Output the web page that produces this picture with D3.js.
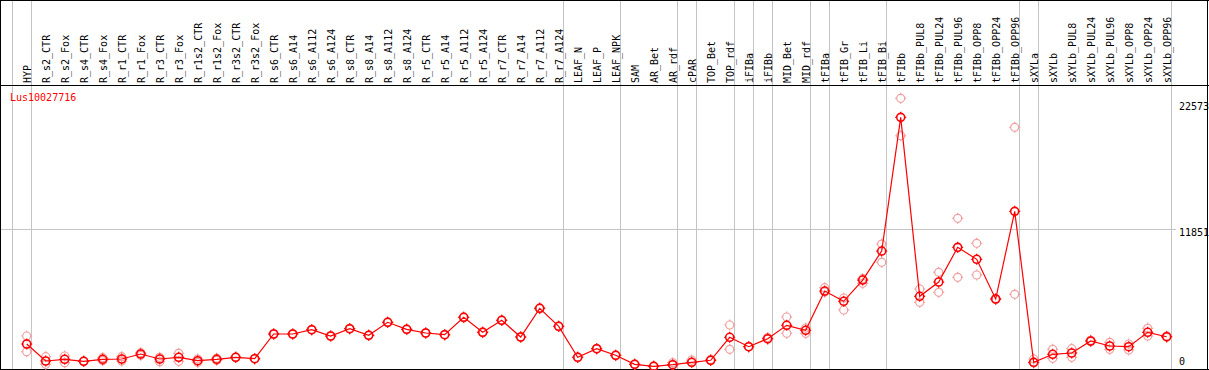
<!DOCTYPE html>
<html>
<head>
<meta charset="utf-8">
<script src="https://cdn.jsdelivr.net/npm/d3@7"></script>
<style>
  body { margin: 0; background: #fff; }
  text { font-family: "DejaVu Sans Mono", monospace; font-size: 10px; }
</style>
</head>
<body>
<div id="chart"></div>
<script>
var geneName = "Lus10027716";

var samples = ["HYP","R_s2_CTR","R_s2_Fox","R_s4_CTR","R_s4_Fox","R_r1_CTR","R_r1_Fox","R_r3_CTR","R_r3_Fox",
  "R_r1s2_CTR","R_r1s2_Fox","R_r3s2_CTR","R_r3s2_Fox","R_s6_CTR","R_s6_A14","R_s6_A112","R_s6_A124",
  "R_s8_CTR","R_s8_A14","R_s8_A112","R_s8_A124","R_r5_CTR","R_r5_A14","R_r5_A112","R_r5_A124",
  "R_r7_CTR","R_r7_A14","R_r7_A112","R_r7_A124","LEAF_N","LEAF_P","LEAF_NPK","SAM","AR_Bet","AR_rdf",
  "cPAR","TOP_Bet","TOP_rdf","iFIBa","iFIBb","MID_Bet","MID_rdf","tFIBa","tFIB_Gr","tFIB_Li","tFIB_Bi",
  "tFIBb","tFIBb_PUL8","tFIBb_PUL24","tFIBb_PUL96","tFIBb_OPP8","tFIBb_OPP24","tFIBb_OPP96","sXYLa",
  "sXYLb","sXYLb_PUL8","sXYLb_PUL24","sXYLb_PUL96","sXYLb_OPP8","sXYLb_OPP24","sXYLb_OPP96"];

var means = [2013,563,708,537,708,733,1160,733,878,588,708,878,759,2866,2866,3233,2695,3318,2755,3864,
  3267,2951,2806,4290,3011,4034,2610,5058,3522,878,1612,1049,281,111,247,452,623,2584,1783,2465,3608,
  3181,6533,5655,7471,9945,21348,6081,7301,10260,9237,5851,13331,452,1134,1245,2269,1842,1783,3011,2635];

var replicates = [[2695,1356],[930,281],[989,418],[560,520],[844,588],[930,560],[1271,1049],[878,503],
  [1220,537],[733,452],[800,620],[900,850],[780,740],[2900,2830],[2890,2840],[3260,3200],[2720,2670],
  [3340,3290],[2780,2730],[3890,3840],[3290,3240],[2980,2920],[2830,2780],[4320,4260],[3040,2980],
  [4060,4010],[2640,2580],[5090,5030],[3550,3490],[900,850],[1640,1580],[1070,1020],[300,260],[130,90],
  [418,230],[648,430],[700,600],[3633,1561],[1800,1760],[2560,2420],[4316,2925],[2925,3378],[6815,6450],
  [5936,4913],[7582,7190],[10542,8981],[22969,19779],[6704,5569],[8128,6422],[12734,7702],[10602,7898],
  [5900,5800],[20495,6252],[733,400],[1561,793],[1612,878],[2330,2210],[2158,1561],[2013,1501],
  [3352,2695],[2700,2580]];

// sample after which a grey separator is drawn
var groupEnds = ["HYP","R_r7_A124","LEAF_NPK","AR_rdf","cPAR","TOP_rdf","iFIBa","iFIBb","MID_rdf",
  "tFIBa","tFIB_Bi","tFIBb_OPP96","sXYLa","sXYLb_OPP96"];

var yTicks = [0, 11851, 22573];

var width = 1209, height = 370;

var svg = d3.select("#chart").append("svg")
  .attr("width", width)
  .attr("height", height);

var x = d3.scalePoint()
  .domain(samples)
  .range([26.7, 1166.7]);

var y = d3.scaleLinear()
  .domain([0, 22573])
  .range([367.6, 103]);

var step = x.step();

// grey separators
var sepX = [x(samples[0]) - step + 4.3].concat(groupEnds.map(function(s) { return x(s) + 4.3; }));
svg.selectAll("line.sep")
  .data(sepX)
  .enter().append("line")
  .attr("x1", function(d) { return Math.round(d) + 0.5; })
  .attr("x2", function(d) { return Math.round(d) + 0.5; })
  .attr("y1", 0).attr("y2", height)
  .attr("stroke", "#c4c4c4");

// horizontal grid line at the middle tick
svg.append("line")
  .attr("x1", 1).attr("x2", 1176)
  .attr("y1", Math.round(y(11851)) + 0.5)
  .attr("y2", Math.round(y(11851)) + 0.5)
  .attr("stroke", "#c4c4c4");

// frame
svg.append("line").attr("x1", 0).attr("x2", width).attr("y1", 0.5).attr("y2", 0.5).attr("stroke", "#000");
svg.append("line").attr("x1", 0).attr("x2", width).attr("y1", 85.5).attr("y2", 85.5).attr("stroke", "#000");
svg.append("line").attr("x1", 0).attr("x2", width).attr("y1", 369.5).attr("y2", 369.5).attr("stroke", "#000");
svg.append("line").attr("x1", 0.5).attr("x2", 0.5).attr("y1", 0).attr("y2", height).attr("stroke", "#000");
svg.append("line").attr("x1", 1207.5).attr("x2", 1207.5).attr("y1", 0).attr("y2", height).attr("stroke", "#000");

// column labels
svg.selectAll("text.lab")
  .data(samples)
  .enter().append("text")
  .attr("transform", function(d) { return "translate(" + (x(d) + 4) + ",83) rotate(-90)"; })
  .attr("fill", "#000")
  .text(function(d) { return d; });

// gene name
svg.append("text")
  .attr("x", 10).attr("y", 101)
  .attr("fill", "red")
  .text(geneName);

// right axis labels
svg.selectAll("text.tick")
  .data(yTicks)
  .enter().append("text")
  .attr("x", 1179)
  .attr("y", function(d) { return Math.min(y(d), 358) + 7.4; })
  .attr("fill", "#000")
  .text(function(d) { return d; });

function marker(g, cx, cy, color, sw) {
  g.append("circle").attr("cx", cx).attr("cy", cy).attr("r", 4)
    .attr("fill", "none").attr("stroke", color).attr("stroke-width", sw);
  [[0,-5.5,0,-4],[0,4,0,5.5],[-5.5,0,-4,0],[4,0,5.5,0]].forEach(function(t) {
    g.append("line")
      .attr("x1", cx + t[0]).attr("y1", cy + t[1])
      .attr("x2", cx + t[2]).attr("y2", cy + t[3])
      .attr("stroke", color).attr("stroke-width", 1.2);
  });
}

// replicate points
var repG = svg.append("g");
samples.forEach(function(s, i) {
  replicates[i].forEach(function(v) {
    marker(repG, x(s), y(v), "#f0a0a0", 1.2);
  });
});

// mean line
var line = d3.line()
  .x(function(d, i) { return x(samples[i]); })
  .y(function(d) { return y(d); });

svg.append("path")
  .datum(means)
  .attr("d", line)
  .attr("fill", "none")
  .attr("stroke", "red")
  .attr("stroke-width", 1.2);

var meanG = svg.append("g");
samples.forEach(function(s, i) {
  marker(meanG, x(s), y(means[i]), "red", 1.6);
});
</script>
</body>
</html>
